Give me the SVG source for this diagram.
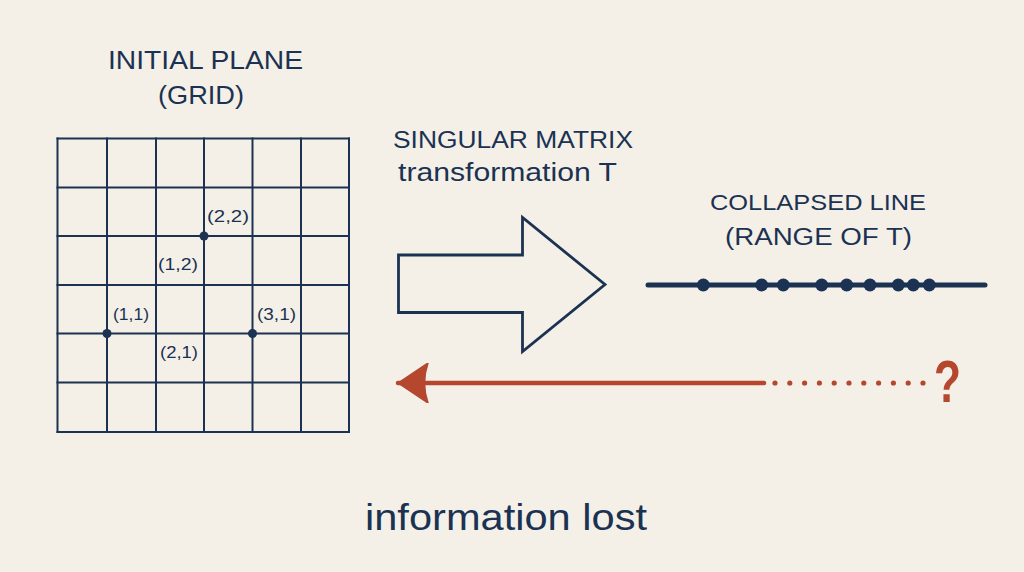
<svg xmlns="http://www.w3.org/2000/svg" width="1024" height="572" viewBox="0 0 1024 572">
  <style>
    .ink { fill: #1b3252; font-family: "Liberation Sans", "DejaVu Sans", sans-serif; }
    .title { font-size: 25px; }
    .lbl { font-size: 17px; }
    .grid line { stroke: #1b3252; stroke-width: 2; stroke-linecap: square; }
    .dot { fill: #1b3252; }
    .red { fill: #b5472f; }
  </style>
  <defs>
    <marker id="redHead" viewBox="0 0 32 40" refX="31" refY="20" markerWidth="32" markerHeight="40" markerUnits="userSpaceOnUse" orient="auto">
      <path d="M31,20 L1,0 Q8,20 1,40 Z" fill="#b5472f" stroke="#b5472f" stroke-width="1.5" stroke-linejoin="round"/>
    </marker>
  </defs>
  <rect x="0" y="0" width="1024" height="572" fill="#f4f0e7"/>

  <g id="plane-title">
    <text class="ink title" x="108" y="69" textLength="195" lengthAdjust="spacingAndGlyphs">INITIAL PLANE</text>
    <text class="ink title" x="158" y="104" textLength="86" lengthAdjust="spacingAndGlyphs">(GRID)</text>
  </g>

  <g id="grid" class="grid">
    <line x1="57.5" y1="138.5" x2="57.5" y2="432"/>
    <line x1="107" y1="138.5" x2="107" y2="432"/>
    <line x1="156" y1="138.5" x2="156" y2="432"/>
    <line x1="204" y1="138.5" x2="204" y2="432"/>
    <line x1="252.5" y1="138.5" x2="252.5" y2="432"/>
    <line x1="301" y1="138.5" x2="301" y2="432"/>
    <line x1="349" y1="138.5" x2="349" y2="432"/>
    <line x1="57.5" y1="138.5" x2="349" y2="138.5"/>
    <line x1="57.5" y1="187.5" x2="349" y2="187.5"/>
    <line x1="57.5" y1="236" x2="349" y2="236"/>
    <line x1="57.5" y1="285" x2="349" y2="285"/>
    <line x1="57.5" y1="333.5" x2="349" y2="333.5"/>
    <line x1="57.5" y1="382.5" x2="349" y2="382.5"/>
    <line x1="57.5" y1="432" x2="349" y2="432"/>
  </g>

  <g id="grid-points">
    <circle class="dot" cx="107" cy="333.5" r="4.5"/>
    <circle class="dot" cx="204" cy="236" r="4.5"/>
    <circle class="dot" cx="252.5" cy="333.5" r="4.5"/>
    <text class="ink lbl" x="207" y="222" textLength="42" lengthAdjust="spacingAndGlyphs">(2,2)</text>
    <text class="ink lbl" x="158" y="270" textLength="40" lengthAdjust="spacingAndGlyphs">(1,2)</text>
    <text class="ink lbl" x="113" y="320" textLength="36" lengthAdjust="spacingAndGlyphs">(1,1)</text>
    <text class="ink lbl" x="257" y="320" textLength="39" lengthAdjust="spacingAndGlyphs">(3,1)</text>
    <text class="ink lbl" x="160" y="358" textLength="38" lengthAdjust="spacingAndGlyphs">(2,1)</text>
  </g>

  <g id="transform-label">
    <text class="ink" font-size="23" x="393" y="147.5" textLength="240" lengthAdjust="spacingAndGlyphs">SINGULAR MATRIX</text>
    <text class="ink" font-size="25" x="398" y="181" textLength="219" lengthAdjust="spacingAndGlyphs">transformation T</text>
  </g>

  <g id="connectors">
    <path id="transform-arrow" d="M398.5,255 L522.5,255 L522.5,217.5 L605,284.5 L522.5,351.5 L522.5,312.5 L398.5,312.5 Z" fill="none" stroke="#1b3252" stroke-width="2.8" stroke-linejoin="miter"/>
    <line id="inverse-arrow" x1="764" y1="383" x2="398" y2="383" stroke="#b5472f" stroke-width="4.5" stroke-linecap="round" marker-end="url(#redHead)"/>
    <g id="inverse-dots" class="red">
      <circle cx="775" cy="383" r="2.6"/>
      <circle cx="789.8" cy="383" r="2.6"/>
      <circle cx="804.6" cy="383" r="2.6"/>
      <circle cx="819.4" cy="383" r="2.6"/>
      <circle cx="834.2" cy="383" r="2.6"/>
      <circle cx="849" cy="383" r="2.6"/>
      <circle cx="863.8" cy="383" r="2.6"/>
      <circle cx="878.6" cy="383" r="2.6"/>
      <circle cx="893.4" cy="383" r="2.6"/>
      <circle cx="908.2" cy="383" r="2.6"/>
      <circle cx="923" cy="383" r="2.6"/>
    </g>
  </g>

  <g id="question">
    <text class="red" font-family="Liberation Sans, DejaVu Sans, sans-serif" font-weight="bold" font-size="60" x="934" y="401.5" textLength="27" lengthAdjust="spacingAndGlyphs">?</text>
  </g>

  <g id="collapsed-title">
    <text class="ink" font-size="22" x="710" y="209.5" textLength="216" lengthAdjust="spacingAndGlyphs">COLLAPSED LINE</text>
    <text class="ink" font-size="23" x="725" y="245" textLength="187" lengthAdjust="spacingAndGlyphs">(RANGE OF T)</text>
  </g>

  <g id="collapsed-line">
    <line x1="648" y1="285" x2="985" y2="285" stroke="#1b3252" stroke-width="5" stroke-linecap="round"/>
    <circle class="dot" cx="703.3" cy="285" r="6.5"/>
    <circle class="dot" cx="761.7" cy="285" r="6.5"/>
    <circle class="dot" cx="783.3" cy="285" r="6.5"/>
    <circle class="dot" cx="821.7" cy="285" r="6.5"/>
    <circle class="dot" cx="846.7" cy="285" r="6.5"/>
    <circle class="dot" cx="870" cy="285" r="6.5"/>
    <circle class="dot" cx="898.3" cy="285" r="6.5"/>
    <circle class="dot" cx="913.3" cy="285" r="6.5"/>
    <circle class="dot" cx="929.3" cy="285" r="6.5"/>
  </g>

  <g id="caption">
    <text class="ink" font-size="36" x="365" y="530" textLength="282" lengthAdjust="spacingAndGlyphs">information lost</text>
  </g>
</svg>
